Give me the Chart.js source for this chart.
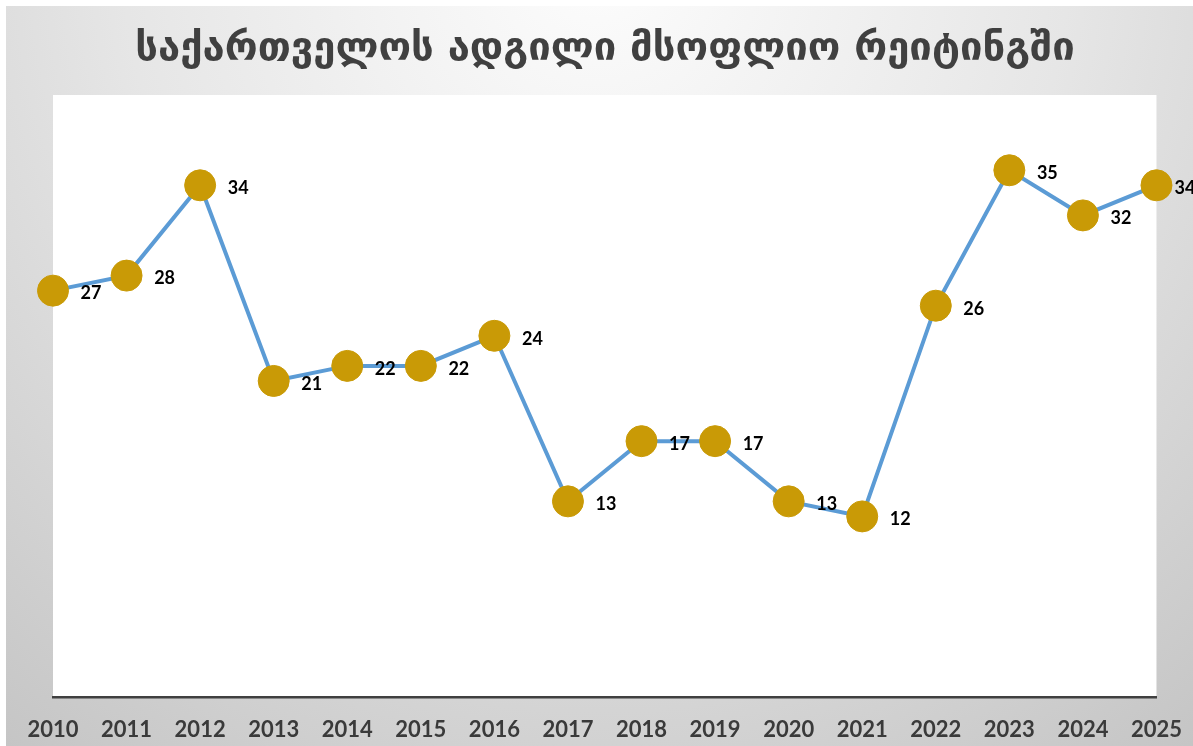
<!DOCTYPE html>
<html>
<head>
<meta charset="utf-8">
<script src="https://cdn.jsdelivr.net/npm/chart.js@4.4.1/dist/chart.umd.min.js"></script>
<style>
  html, body { margin: 0; padding: 0; background: #ffffff; }
  #wrap { width: 1193px; height: 746px; position: relative; }
</style>
</head>
<body>
<div id="wrap"><canvas id="c" width="1193" height="746"></canvas></div>
<script>
const chartTitle = "საქართველოს ადგილი მსოფლიო რეიტინგში";
const years = ["2010","2011","2012","2013","2014","2015","2016","2017","2018","2019","2020","2021","2022","2023","2024","2025"];
const rank = [27, 28, 34, 21, 22, 22, 24, 13, 17, 17, 13, 12, 26, 35, 32, 34];

const bgPlugin = {
  id: 'bg',
  beforeDraw(chart) {
    const ctx = chart.ctx, W = chart.width, H = chart.height, a = chart.chartArea;
    ctx.save();
    ctx.fillStyle = '#ffffff';
    ctx.fillRect(0, 0, W, H);
    const g = ctx.createRadialGradient(W / 2, -40, 40, W / 2, -40, 1000);
    g.addColorStop(0, '#fbfbfb');
    g.addColorStop(0.45, '#e6e6e6');
    g.addColorStop(1, '#c4c4c4');
    ctx.fillStyle = g;
    ctx.fillRect(6, 6, W - 6, H - 6);
    ctx.fillStyle = '#ffffff';
    ctx.fillRect(a.left, a.top, a.right - a.left, a.bottom - a.top);
    // title
    ctx.fillStyle = '#404040';
    ctx.textAlign = 'center';
    ctx.textBaseline = 'middle';
    let size = 36;
    ctx.font = 'bold ' + size + 'px "DejaVu Sans"';
    const w = ctx.measureText(chartTitle).width;
    size = size * 940 / w;
    ctx.font = 'bold ' + size.toFixed(1) + 'px "DejaVu Sans"';
    ctx.fillText(chartTitle, 605, 50);
    ctx.restore();
  }
};

const labelPlugin = {
  id: 'vals',
  afterDatasetsDraw(chart) {
    const ctx = chart.ctx;
    const meta = chart.getDatasetMeta(0);
    ctx.save();
    ctx.fillStyle = '#000000';
    ctx.font = 'bold 18px Lato';
    ctx.textAlign = 'center';
    ctx.textBaseline = 'middle';
    meta.data.forEach((pt, i) => {
      const x = Math.min(pt.x + 38, chart.width - 8);
      ctx.fillText(String(rank[i]), x, pt.y + 3);
    });
    ctx.restore();
  }
};

new Chart(document.getElementById('c'), {
  type: 'line',
  data: {
    labels: years,
    datasets: [{
      data: rank,
      borderColor: '#5b9bd5',
      borderWidth: 4,
      pointRadius: 15.5,
      pointHoverRadius: 15.5,
      pointBackgroundColor: '#c99a06',
      pointBorderColor: '#c99a06',
      pointBorderWidth: 1,
      tension: 0,
      clip: false
    }]
  },
  options: {
    responsive: false,
    animation: false,
    layout: { padding: { left: 53, right: 36, top: 95, bottom: -17 } },
    plugins: { legend: { display: false }, tooltip: { enabled: false }, title: { display: false } },
    scales: {
      x: {
        offset: false,
        grid: { display: false, drawTicks: false },
        border: { display: true, color: '#404040', width: 2.5 },
        ticks: { color: '#3a3a3a', font: { family: 'Lato', weight: 'bold', size: 22, lineHeight: 2 }, padding: 11, maxRotation: 0, autoSkip: false }
      },
      y: { display: false, min: 0, max: 40 }
    }
  },
  plugins: [bgPlugin, labelPlugin]
});
</script>
</body>
</html>
